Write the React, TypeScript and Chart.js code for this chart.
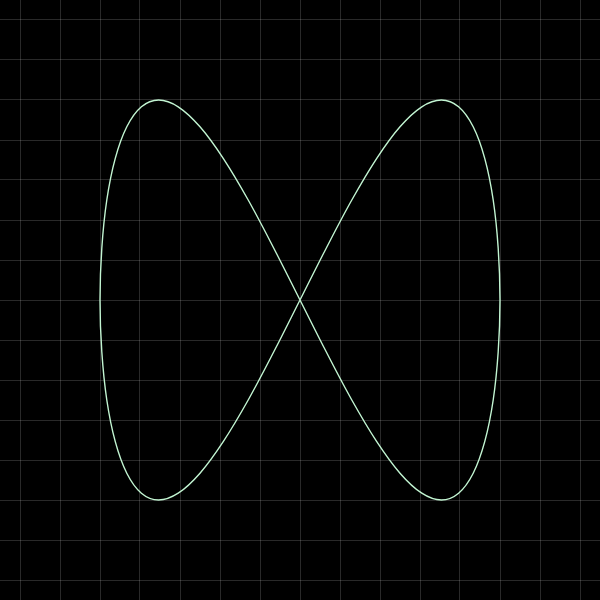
import React, { useEffect, useRef } from "react";
import { Chart, registerables } from "chart.js";

Chart.register(...registerables);

// Curve points (x: horizontal position, y: vertical position, units of half-width)
const curveX: number[] = [
  0, 0.131, 0.259, 0.383, 0.5, 0.609, 0.707, 0.793, 0.866, 0.924, 0.966, 0.991,
  1, 0.991, 0.966, 0.924, 0.866, 0.793, 0.707, 0.609, 0.5, 0.383, 0.259, 0.131,
  0, -0.131, -0.259, -0.383, -0.5, -0.609, -0.707, -0.793, -0.866, -0.924, -0.966, -0.991,
  -1, -0.991, -0.966, -0.924, -0.866, -0.793, -0.707, -0.609, -0.5, -0.383, -0.259, -0.131,
  0,
];
const curveY: number[] = [
  0, 0.259, 0.5, 0.707, 0.866, 0.966, 1, 0.966, 0.866, 0.707, 0.5, 0.259,
  0, -0.259, -0.5, -0.707, -0.866, -0.966, -1, -0.966, -0.866, -0.707, -0.5, -0.259,
  0, 0.259, 0.5, 0.707, 0.866, 0.966, 1, 0.966, 0.866, 0.707, 0.5, 0.259,
  0, -0.259, -0.5, -0.707, -0.866, -0.966, -1, -0.966, -0.866, -0.707, -0.5, -0.259,
  0,
];
// Grid line positions
const gridTicks: number[] = [
  -1.4, -1.2, -1.0, -0.8, -0.6, -0.4, -0.2, 0, 0.2, 0.4, 0.6, 0.8, 1.0, 1.2, 1.4,
];
const axisMin = -1.5;
const axisMax = 1.5;

export default function App() {
  const ref = useRef<HTMLCanvasElement | null>(null);
  useEffect(() => {
    if (!ref.current) return;
    const data = curveX.map((x, i) => ({ x, y: curveY[i] }));
    const axis = () => ({
      type: "linear" as const,
      min: axisMin,
      max: axisMax,
      afterBuildTicks: (scale: any) => {
        scale.ticks = gridTicks.map((v) => ({ value: v }));
      },
      ticks: { display: false },
      grid: { color: "rgba(255,255,255,0.16)", lineWidth: 1, drawTicks: false },
      border: { display: false },
    });
    const chart = new Chart(ref.current, {
      type: "scatter",
      data: {
        datasets: [
          {
            data,
            showLine: true,
            borderColor: "#c2f5d2",
            borderWidth: 1.4,
            pointRadius: 0,
            tension: 0.35,
            fill: false,
          },
        ],
      },
      options: {
        responsive: false,
        animation: false,
        layout: { padding: 0 },
        plugins: { legend: { display: false }, tooltip: { enabled: false } },
        scales: { x: axis(), y: axis() },
      },
    });
    return () => chart.destroy();
  }, []);
  return (
    <div
      style={{
        position: "fixed",
        left: 0,
        top: 0,
        width: 600,
        height: 600,
        background: "#000",
      }}
    >
      <canvas ref={ref} width={600} height={600} style={{ display: "block" }} />
    </div>
  );
}
